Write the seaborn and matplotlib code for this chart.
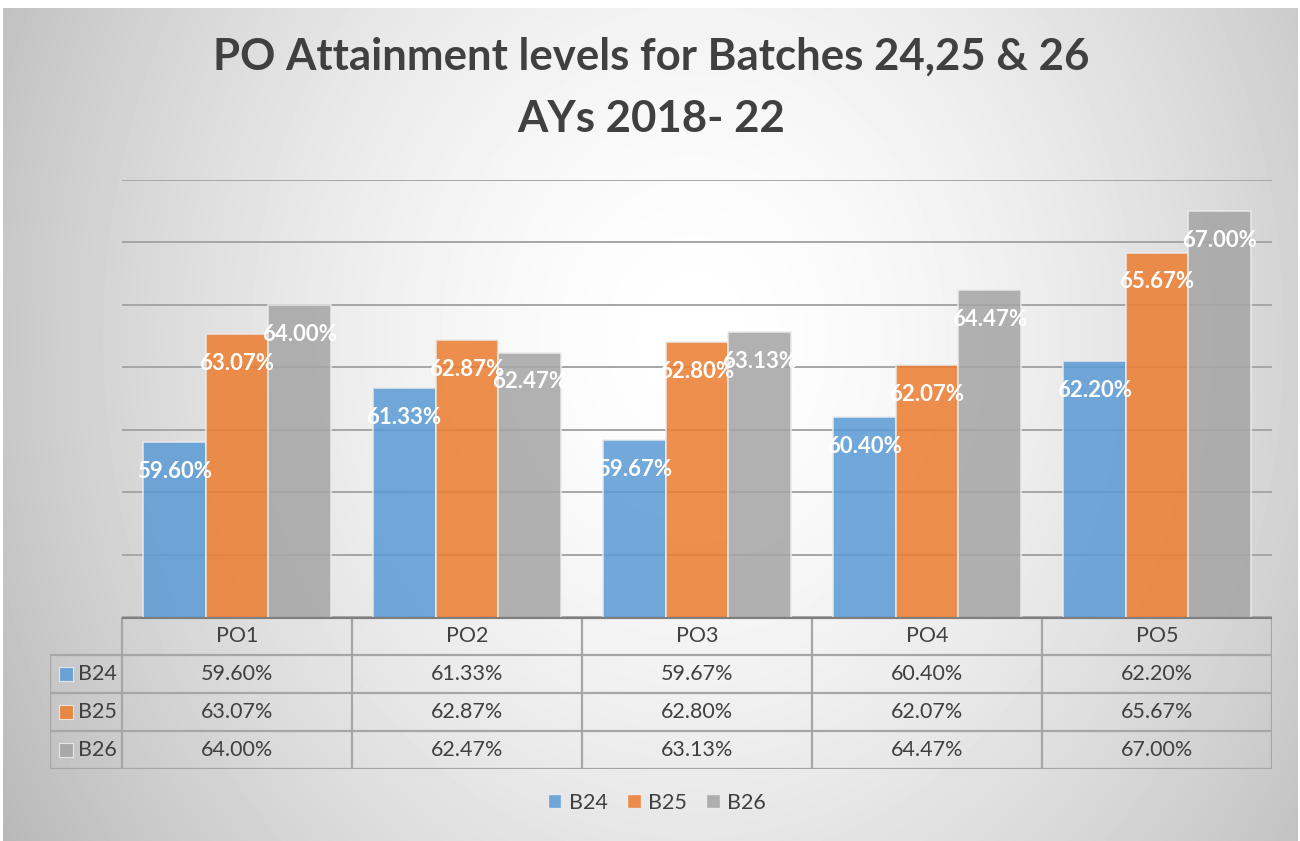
import numpy as np
import pandas as pd
import matplotlib
matplotlib.use("Agg")
import matplotlib.pyplot as plt
from matplotlib.patches import Patch
import seaborn as sns

# values
outcomes = ["PO1", "PO2", "PO3", "PO4", "PO5"]
batches = ["B24", "B25", "B26"]
b24 = [59.60, 61.33, 59.67, 60.40, 62.20]
b25 = [63.07, 62.87, 62.80, 62.07, 65.67]
b26 = [64.00, 62.47, 63.13, 64.47, 67.00]
colors = ["#5B9BD5", "#ED7D31", "#A5A5A5"]

df = pd.DataFrame({
    "PO": outcomes * 3,
    "Batch": [b for b in batches for _ in outcomes],
    "Value": b24 + b25 + b26,
})

sns.set_theme(style="white")
plt.rcParams["font.family"] = ["Lato", "DejaVu Sans"]
txt_col = "#404040"
W, H = 1300, 841

fig = plt.figure(figsize=(13, 8.41), dpi=100)
fig.patch.set_facecolor("white")

# radial grey background like the Excel chart area
bg = fig.add_axes([3 / W, 0, 1295 / W, 833 / H], zorder=-10)
yy, xx = np.mgrid[0:833, 0:1295]
d = np.sqrt(((xx - 690) / 690.0) ** 2 + ((yy - 330) / 820.0) ** 2)
shade = np.clip(255 - 55 * d ** 1.6, 185, 255) / 255.0
bg.imshow(shade, cmap="gray", vmin=0, vmax=1, aspect="auto", interpolation="bilinear")
bg.axis("off")

# main bar axes
ax = fig.add_axes([122 / W, 1 - 617 / H, 1150 / W, 437 / H])
ax.patch.set_alpha(0)
sns.barplot(data=df, x="PO", y="Value", hue="Batch", hue_order=batches,
            palette=colors, saturation=1, width=0.82, alpha=0.86,
            edgecolor="#ececec", linewidth=1.2, legend=False, ax=ax, zorder=2)
ax.set_ylim(54, 68)
ax.set_xlim(-0.5, 4.5)
ax.set_yticks(np.arange(54, 69, 2))
ax.yaxis.grid(True, color="#a6a6a6", linewidth=1.4, zorder=0)
ax.set_axisbelow(True)
ax.tick_params(left=False, bottom=False, labelleft=False, labelbottom=False)
ax.set_xlabel("")
ax.set_ylabel("")
for s in ax.spines.values():
    s.set_visible(False)

for cont in ax.containers:
    for bar in cont:
        h = bar.get_height()
        ax.annotate(f"{h:.2f}%", (bar.get_x() + bar.get_width() / 2, h),
                    xytext=(0, -21), textcoords="offset points",
                    ha="center", va="center", color="white",
                    fontsize=16, fontweight="bold", zorder=5)

# title
fig.text(0.501, 1 - 57 / H, "PO Attainment levels for Batches 24,25 & 26",
         ha="center", va="center", fontsize=31.5, fontweight="bold", color=txt_col)
fig.text(0.501, 1 - 119 / H, "AYs 2018- 22",
         ha="center", va="center", fontsize=31.5, fontweight="bold", color=txt_col)

# data table under the bars
lab_w = 72 / 230
tab = fig.add_axes([50 / W, 1 - 769 / H, 1222 / W, 152 / H])
tab.patch.set_alpha(0)
tab.set_xlim(-0.5 - lab_w, 4.5)
tab.set_ylim(4, 0)
tab.axis("off")
gc = "#a6a6a6"
for xv in np.arange(-0.5, 4.6, 1):
    tab.vlines(xv, 0, 4, color=gc, lw=1.6)
tab.vlines(-0.5 - lab_w, 1, 4, color=gc, lw=1.6)
for yv in [1, 2, 3, 4]:
    tab.hlines(yv, -0.5 - lab_w, 4.5, color=gc, lw=1.6)
tab.hlines(0, -0.5, 4.5, color="#7f7f7f", lw=3)

for i, po in enumerate(outcomes):
    tab.text(i, 0.5, po, ha="center", va="center", fontsize=15.5, color=txt_col)
for r, (name, vals, c) in enumerate(zip(batches, [b24, b25, b26], colors)):
    for i, v in enumerate(vals):
        tab.text(i, r + 1.5, f"{v:.2f}%", ha="center", va="center",
                 fontsize=15.5, color=txt_col)
    tab.scatter([-0.5 - lab_w + 15.5 / 230], [r + 1.5], marker="s", s=88,
                color=c, alpha=0.86, edgecolor="#f0f0f0", linewidth=0.8)
    tab.text(-0.5 - lab_w + 28 / 230, r + 1.5, name, ha="left", va="center",
             fontsize=15.5, color=txt_col)

# legend
handles = [Patch(facecolor=c, alpha=0.86, edgecolor="#f0f0f0", label=b)
           for b, c in zip(batches, colors)]
fig.legend(handles=handles, loc="center", bbox_to_anchor=(657 / W, 1 - 803 / H),
           ncol=3, frameon=False, fontsize=15.5, handlelength=0.62,
           handleheight=0.62, handletextpad=0.35, columnspacing=0.9,
           labelcolor=txt_col)

fig.savefig("out.png", dpi=100)
